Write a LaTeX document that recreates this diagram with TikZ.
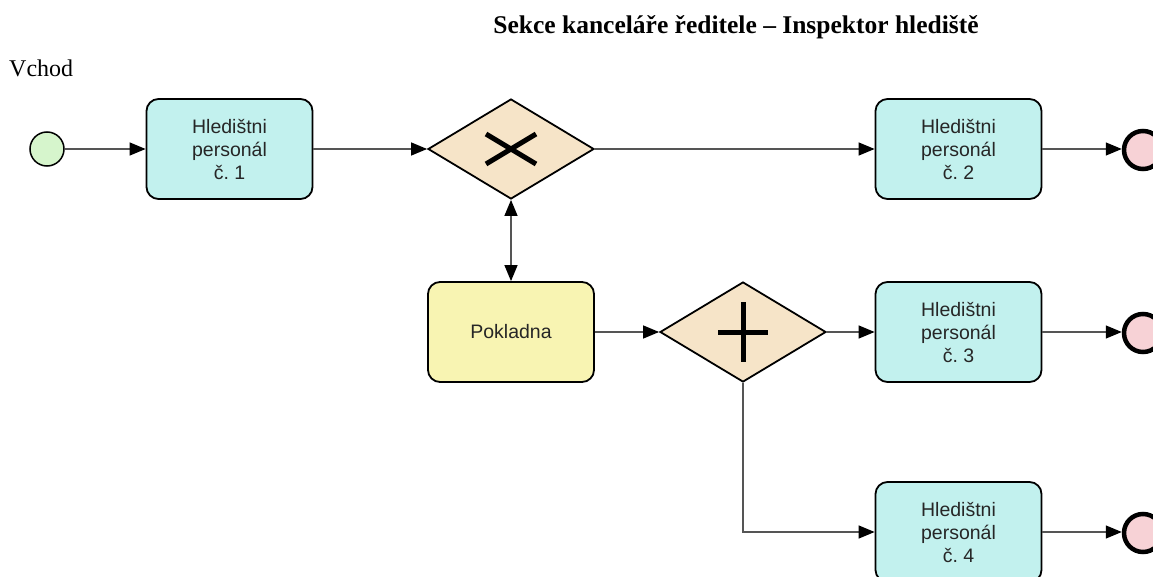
\documentclass[tikz,border=0pt]{standalone}
\usepackage{fontspec}
\setmainfont{Liberation Serif}
\newfontfamily\labelfont{Liberation Sans}
\usetikzlibrary{shapes.geometric,arrows.meta}
\frenchspacing

\definecolor{taskfill}{HTML}{C2F1EE}
\definecolor{cashfill}{HTML}{F8F4B2}
\definecolor{gatefill}{HTML}{F6E4C8}
\definecolor{startfill}{HTML}{D6F5CC}
\definecolor{endfill}{HTML}{F7D2D6}
\definecolor{flowgray}{HTML}{555555}

\tikzset{
  task/.style={draw=black, line width=1.8pt, rounded corners=12pt,
    fill=taskfill, minimum width=166pt, minimum height=100pt,
    inner sep=0pt, align=center, text=black!85,
    font=\labelfont\fontsize{19.5}{23}\selectfont},
  cashbox/.style={task, fill=cashfill},
  gateway/.style={draw=black, line width=1.8pt, fill=gatefill,
    shape=diamond, minimum width=166pt, minimum height=100pt,
    inner sep=0pt, aspect=1.66},
  startev/.style={draw=black, line width=1.5pt, fill=startfill,
    circle, minimum size=34pt, inner sep=0pt},
  endev/.style={draw=black, line width=4.5pt, fill=endfill,
    circle, minimum size=38pt, inner sep=0pt},
  flow/.style={draw=flowgray, line width=1.3pt,
    -{Triangle[length=16pt,width=13pt,color=black]}},
  biflow/.style={draw=flowgray, line width=1.3pt,
    {Triangle[length=16pt,width=13pt,color=black]}-{Triangle[length=16pt,width=13pt,color=black]}},
  gatesymbol/.style={line width=5pt, line cap=butt}
}

\begin{document}
\begin{tikzpicture}[x=1pt, y=-1pt]
  \clip (0,0) rectangle (1153,577);

  % captions
  \node[anchor=base, inner sep=0pt, font=\fontsize{25.5}{30}\selectfont\bfseries]
    (title) at (736,34) {Sekce kanceláře ředitele – Inspektor hlediště};
  \node[anchor=base west, inner sep=0pt, font=\fontsize{24}{28}\selectfont]
    (entry) at (9,77) {Vchod};

  % events, tasks and gateways
  \node[startev] (start) at (47,149) {};
  \node[task] (t1) at (229.5,149) {Hledištni\\personál\\č. 1};
  \node[gateway] (xor) at (511,149) {};
  \node[task] (t2) at (958.5,149) {Hledištni\\personál\\č. 2};
  \node[endev] (e1) at (1143,150) {};

  \node[cashbox] (cash) at (511,332) {Pokladna};
  \node[gateway] (and) at (743,332) {};
  \node[task] (t3) at (958.5,332) {Hledištni\\personál\\č. 3};
  \node[endev] (e2) at (1143,333) {};

  \node[task] (t4) at (958.5,532) {Hledištni\\personál\\č. 4};
  \node[endev] (e3) at (1143,533) {};

  % gateway markers
  \draw[gatesymbol] ([shift={(-25,-15)}]xor.center) -- ([shift={(25,15)}]xor.center);
  \draw[gatesymbol] ([shift={(-25,15)}]xor.center) -- ([shift={(25,-15)}]xor.center);
  \draw[gatesymbol] ([shift={(-25,0)}]and.center) -- ([shift={(25,0)}]and.center);
  \draw[gatesymbol] ([shift={(0,-30)}]and.center) -- ([shift={(0,30)}]and.center);

  % sequence flows
  \draw[flow] (start) -- (t1);
  \draw[flow] (t1) -- (xor);
  \draw[flow] (xor) -- (t2);
  \draw[flow] (t2) -- (e1.west |- t2.east);
  \draw[biflow] (xor.south) -- (cash.north);
  \draw[flow] (cash) -- (and);
  \draw[flow] (and) -- (t3);
  \draw[flow] (t3) -- (e2.west |- t3.east);
  \draw[flow] (and.south) |- (t4.west);
  \draw[flow] (t4) -- (e3.west |- t4.east);
\end{tikzpicture}
\end{document}
